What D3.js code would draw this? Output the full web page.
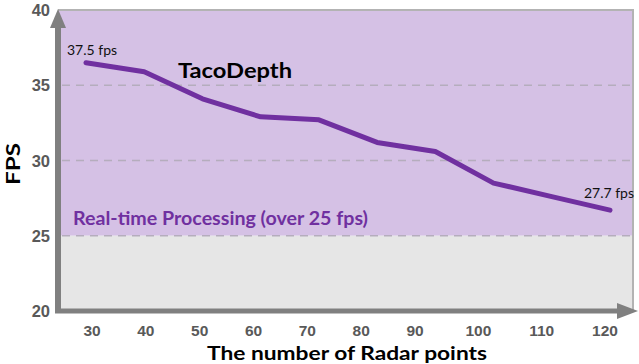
<!DOCTYPE html>
<html>
<head>
  <script src="https://d3js.org/d3.v7.min.js"></script>
  <style>
    body { margin: 0; background: #fff; }
    svg { display: block; }
    .tick-y, .tick-x { font-family: "Liberation Sans", Arial, sans-serif; font-weight: bold; fill: #595959; }
    .calibri { font-family: Lato, "Open Sans", sans-serif; }
  </style>
</head>
<body>
  <svg width="639" height="364"></svg>
  <script>
    // number of radar points and measured FPS
    var points = [30, 40, 50, 60, 70, 80, 90, 100, 110, 120];
    var fps = [36.5, 35.9, 34.1, 32.9, 32.7, 31.2, 30.6, 28.5, 27.6, 26.7];
    var yTicks = [20, 25, 30, 35, 40];
    var xTicks = [30, 40, 50, 60, 70, 80, 90, 100, 110, 120];
    var threshold = 25;

    var svg = d3.select("svg");
    var x = d3.scaleLinear().domain([30, 120]).range([86, 610]);
    // the tick labels in the figure sit a bit off the data points
    var xLabel = d3.scaleLinear().domain([30, 90, 120]).range([92, 415, 605]);
    var y = d3.scaleLinear().domain([20, 40]).range([311, 10]);
    var left = 58, right = 633;

    // background bands
    svg.append("rect").attr("x", left).attr("y", y(40))
      .attr("width", right - left).attr("height", y(threshold) - y(40))
      .attr("fill", "#d5c1e5");
    svg.append("rect").attr("x", left).attr("y", y(threshold))
      .attr("width", right - left).attr("height", y(20) - y(threshold))
      .attr("fill", "#e6e6e6");
    // frame top/right
    svg.append("path")
      .attr("d", "M" + left + "," + y(40) + "H" + right + "V" + y(20))
      .attr("fill", "none").attr("stroke", "#b3b3b3").attr("stroke-width", 2);

    // dashed grid
    svg.selectAll(".grid").data([25, 30, 35]).enter().append("line")
      .attr("x1", left + 4).attr("x2", right)
      .attr("y1", function(d) { return y(d); }).attr("y2", function(d) { return y(d); })
      .attr("stroke", "#b5adbd").attr("stroke-width", 1.5)
      .attr("stroke-dasharray", "8,6");

    // axes with arrows
    svg.append("line").attr("x1", left).attr("x2", left)
      .attr("y1", y(20) + 2).attr("y2", 26)
      .attr("stroke", "#808080").attr("stroke-width", 6);
    svg.append("path").attr("d", "M" + (left - 8) + ",28L" + left + ",9L" + (left + 8) + ",28Z")
      .attr("fill", "#808080");
    svg.append("line").attr("x1", left - 3).attr("x2", 622)
      .attr("y1", y(20)).attr("y2", y(20))
      .attr("stroke", "#808080").attr("stroke-width", 5);
    svg.append("path").attr("d", "M617," + (y(20) - 8) + "L638," + y(20) + "L617," + (y(20) + 8) + "Z")
      .attr("fill", "#808080");

    // tick labels
    svg.selectAll(".tick-y").data(yTicks).enter().append("text")
      .attr("class", "tick-y")
      .attr("x", 50).attr("y", function(d) { return y(d) + 6; })
      .attr("text-anchor", "end").attr("font-size", 16.5)
      .text(function(d) { return d; });
    svg.selectAll(".tick-x").data(xTicks).enter().append("text")
      .attr("class", "tick-x")
      .attr("x", function(d) { return xLabel(d); }).attr("y", 336)
      .attr("text-anchor", "middle").attr("font-size", 15.5)
      .text(function(d) { return d; });

    // axis titles
    svg.append("text").attr("class", "calibri")
      .attr("x", 207).attr("y", 360)
      .attr("font-size", 19).attr("font-weight", "bold").attr("fill", "#000")
      .attr("textLength", 280).attr("lengthAdjust", "spacingAndGlyphs")
      .text("The number of Radar points");
    svg.append("text").attr("class", "calibri")
      .attr("transform", "translate(20,185) rotate(-90)")
      .attr("font-size", 18).attr("font-weight", "bold").attr("fill", "#000")
      .attr("textLength", 42).attr("lengthAdjust", "spacingAndGlyphs")
      .text("FPS");

    // line
    var line = d3.line()
      .x(function(d, i) { return x(points[i]); })
      .y(function(d) { return y(d); });
    svg.append("path").datum(fps)
      .attr("d", line)
      .attr("fill", "none").attr("stroke", "#7030a0")
      .attr("stroke-width", 5).attr("stroke-linejoin", "round").attr("stroke-linecap", "round");

    // annotations
    svg.append("text").attr("class", "calibri")
      .attr("x", 67).attr("y", 55).attr("font-size", 14).attr("fill", "#111")
      .text("37.5 fps");
    svg.append("text").attr("class", "calibri")
      .attr("x", 634).attr("y", 198).attr("text-anchor", "end").attr("font-size", 14).attr("fill", "#111")
      .text("27.7 fps");
    svg.append("text").attr("class", "calibri")
      .attr("x", 178).attr("y", 78).attr("font-size", 21).attr("font-weight", "bold").attr("fill", "#000")
      .attr("textLength", 114).attr("lengthAdjust", "spacingAndGlyphs")
      .text("TacoDepth");
    svg.append("text").attr("class", "calibri")
      .attr("x", 73).attr("y", 225).attr("font-size", 18.5).attr("font-weight", "bold").attr("fill", "#7030a0")
      .attr("textLength", 295).attr("lengthAdjust", "spacingAndGlyphs")
      .text("Real-time Processing (over 25 fps)");
  </script>
</body>
</html>
